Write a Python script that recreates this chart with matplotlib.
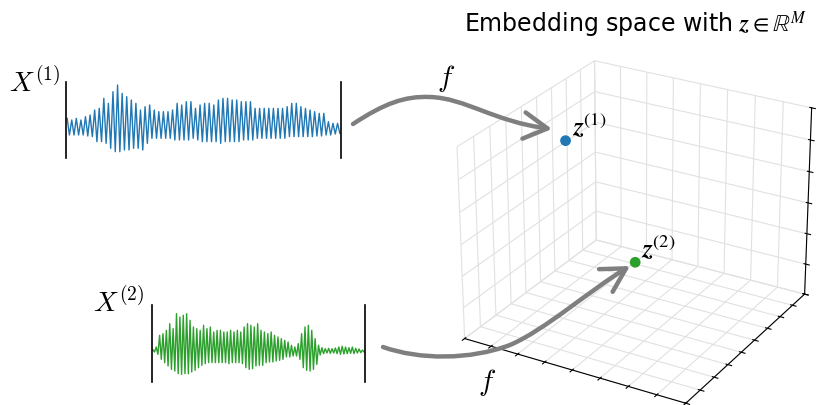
import numpy as np
import matplotlib.pyplot as plt
from matplotlib.patches import FancyArrowPatch
from matplotlib.path import Path
from mpl_toolkits.mplot3d import proj3d

plt.rcParams['mathtext.fontset'] = 'cm'
plt.rcParams['grid.color'] = '#e1e1e1'

# peak heights / trough depths of the two waveforms
sig1_up = [35, 30, 35, 30, 40, 45, 60, 65, 95, 80, 115, 135, 110, 100, 90, 80, 60, 70,
           75, 60, 55, 55, 55, 60, 80, 75, 85, 85, 65, 75, 80, 80, 75, 90, 95, 95,
           90, 90, 85, 85, 85, 65, 65, 65, 65, 65, 65, 65, 70, 80, 80, 70, 65, 60,
           55, 50, 50, 25, 20, 20]
sig1_down = [15, 15, 15, 15, 18, 20, 35, 35, 40, 55, 65, 65, 60, 60, 55, 55, 60, 40,
             25, 25, 25, 25, 25, 30, 30, 30, 30, 25, 30, 35, 35, 35, 35, 40, 35, 35,
             35, 35, 30, 30, 30, 25, 25, 25, 25, 25, 25, 25, 20, 20, 20, 20, 20, 20,
             18, 18, 15, 15, 12, 10]
sig2_up = [4, 12, 47, 52, 62, 82, 67, 112, 102, 107, 112, 92, 72, 67, 62, 77, 67, 72,
           57, 62, 62, 57, 57, 62, 57, 62, 57, 72, 82, 77, 72, 82, 62, 57, 52, 57,
           47, 42, 37, 32, 27, 17, 12, 22, 52, 72, 77, 62, 37,
           17, 10, 7, 8, 7, 9, 12, 14, 12, 10, 12, 8, 6, 3]
sig2_down = [3, 10, 25, 35, 45, 55, 60, 68, 70, 68, 68, 63, 58, 50, 43, 38, 35, 35,
             35, 35, 35, 35, 38, 35, 35, 35, 38, 50, 55, 53, 45, 43, 43, 35, 33, 33,
             30, 28, 25, 18, 18, 15, 15, 25, 50, 58, 60, 55, 40,
             12, 8, 6, 7, 6, 8, 10, 9, 8, 7, 8, 6, 5, 3]

# embedding points
emb_x = [1.35, 3.9]
emb_y = [4.5, 4.5]
emb_z = [5.05, 1.73]
emb_colors = ['#1f77b4', '#2ca02c']
emb_labels = [r'$\boldsymbol{z}^{(1)}$', r'$\boldsymbol{z}^{(2)}$']

# arrow paths in figure pixels (bezier control points)
arrow1 = [(353, 124), (385, 103), (405, 96), (430, 97), (465, 98), (495, 122), (552, 129)]
arrow2 = [(383, 347), (420, 360), (470, 360), (510, 345), (545, 330), (590, 290), (630, 266)]

W, H = 824, 405
fig = plt.figure(figsize=(8.24, 4.05), dpi=100)


def fig_box(x0, y0, x1, y1):
    return [x0 / W, 1 - y1 / H, (x1 - x0) / W, (y1 - y0) / H]


def zigzag(up, down):
    vals = np.empty(2 * len(up))
    vals[0::2] = up
    vals[1::2] = -np.array(down)
    return vals


def signal_axes(box, up, down, color, ylim):
    ax = fig.add_axes(box)
    s = zigzag(up, down)
    ax.plot(np.arange(len(s)), s, color=color, lw=1.0)
    ax.set_xlim(-0.5, len(s) - 0.5)
    ax.set_ylim(*ylim)
    for side in ['top', 'bottom']:
        ax.spines[side].set_visible(False)
    for side in ['left', 'right']:
        ax.spines[side].set_linewidth(1.2)
    ax.set_xticks([])
    ax.set_yticks([])
    ax.patch.set_alpha(0)
    return ax


signal_axes(fig_box(66, 82, 341, 158), sig1_up, sig1_down, '#1f77b4', (-84, 144))
signal_axes(fig_box(152, 305, 365, 382), sig2_up, sig2_down, '#2ca02c', (-93, 138))

fig.text(60 / W, 1 - 92 / H, r'$X^{(1)}$', ha='right', va='baseline', fontsize=20)
fig.text(144 / W, 1 - 312 / H, r'$X^{(2)}$', ha='right', va='baseline', fontsize=20)

# 3d embedding space
ax3 = fig.add_axes([0.522, -0.085, 0.491, 1.04], projection='3d')
ax3.view_init(elev=26, azim=-60)
ax3.set_box_aspect((4.15, 4.2, 3.45))
ax3.set_xlim(0, 8)
ax3.set_ylim(0, 9)
ax3.set_zlim(0, 6)
ax3.set_xticks(range(9))
ax3.set_yticks(range(10))
ax3.set_zticks(range(7))
ax3.set_xticklabels([])
ax3.set_yticklabels([])
ax3.set_zticklabels([])
for axis in (ax3.xaxis, ax3.yaxis, ax3.zaxis):
    axis.set_pane_color((1, 1, 1, 0))
    axis.pane.set_edgecolor('#e1e1e1')
ax3.zaxis.set_ticks_position('upper')
ax3.scatter(emb_x, emb_y, emb_z, c=emb_colors, s=45, depthshade=False)

fig.canvas.draw()
for x, y, z, lab in zip(emb_x, emb_y, emb_z, emb_labels):
    px, py, _ = proj3d.proj_transform(x, y, z, ax3.get_proj())
    ax3.annotate(lab, xy=(px, py), xytext=(4.5, 4), textcoords='offset points',
                 fontsize=19, ha='left', va='baseline', math_fontfamily='stix')

fig.text(636 / W, 1 - 32 / H, r'Embedding space with $\boldsymbol{z} \in \mathbb{R}^M$',
         ha='center', va='baseline', fontsize=17, math_fontfamily='stix')

# arrows
codes = [Path.MOVETO] + [Path.CURVE4] * 6
for pts in (arrow1, arrow2):
    verts = [(x / W, 1 - y / H) for x, y in pts]
    arr = FancyArrowPatch(path=Path(verts, codes), arrowstyle='->,head_length=17,head_width=9.5',
                          color='#7f7f7f', lw=3.2, transform=fig.transFigure,
                          joinstyle='round', capstyle='round')
    fig.add_artist(arr)

fig.text(446 / W, 1 - 79 / H, r'$f$', ha='center', va='center', fontsize=21)
fig.text(487 / W, 1 - 382 / H, r'$f$', ha='center', va='center', fontsize=21)

fig.savefig('out.png', dpi=100)
